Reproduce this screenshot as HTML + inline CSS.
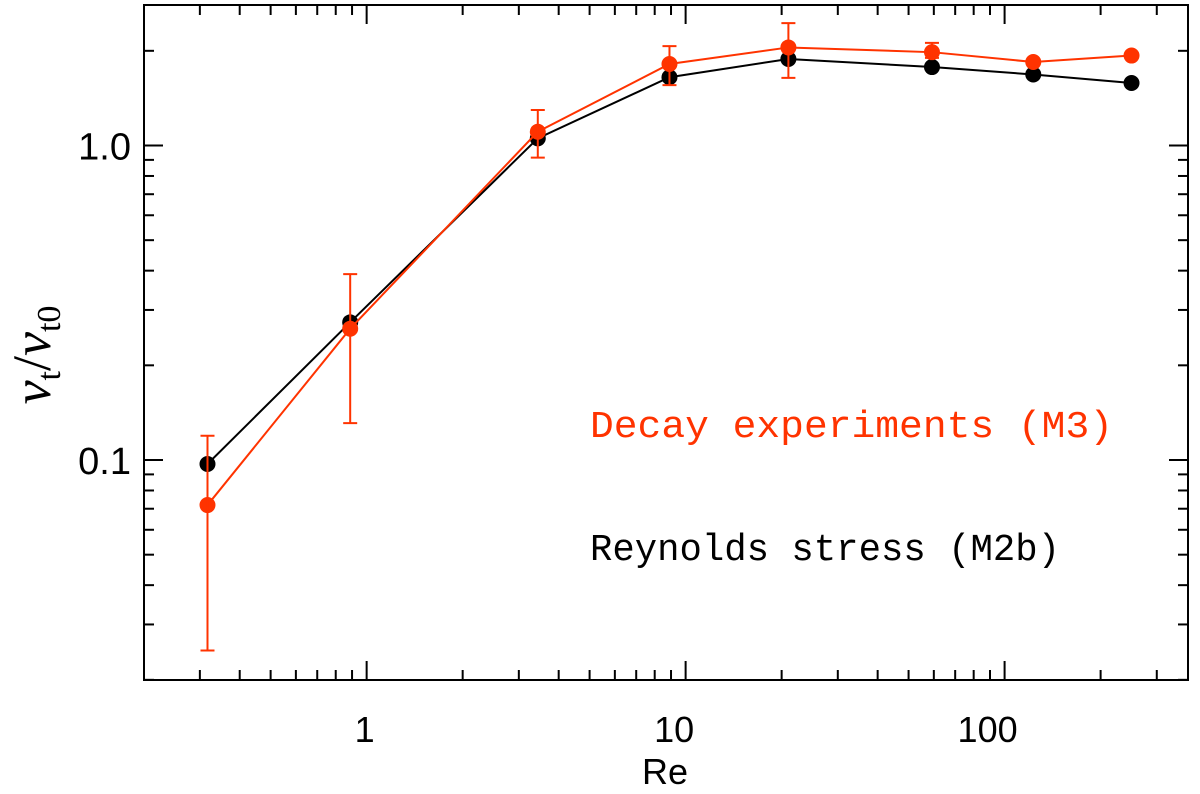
<!DOCTYPE html>
<html><head><meta charset="utf-8"><style>html,body{margin:0;padding:0;background:#fff}svg{display:block}</style></head>
<body>
<svg id="chart" width="1200" height="794" xmlns="http://www.w3.org/2000/svg" font-family="Liberation Sans, sans-serif"></svg>
<script>
const reValues=[0.317,0.888,3.44,8.9,21.0,59.2,123,250];
const reynoldsStress=[0.0971,0.274,1.054,1.648,1.884,1.776,1.682,1.58];
const decayExp=[0.0719,0.2615,1.106,1.816,2.05,1.98,1.843,1.932];
const decayErrHi=[0.1194,0.390,1.297,2.07,2.45,2.12,null,null];
const decayErrLo=[0.0248,0.131,0.915,1.556,1.64,1.90,null,null];
const xTickLabels=["1","10","100"];
const yTickLabels=["0.1","1.0"];
const L=144,R=1188,T=5,B=680;
const xl0=-0.698,xl1=2.575,yl0=-1.6995,yl1=0.4467;
const X=v=>L+(Math.log10(v)-xl0)/(xl1-xl0)*(R-L);
const Y=v=>B-(Math.log10(v)-yl0)/(yl1-yl0)*(B-T);
const svg=document.getElementById('chart');
const NS='http://www.w3.org/2000/svg';
function mk(tag,at,parent){const e=document.createElementNS(NS,tag);for(const k in at)e.setAttribute(k,at[k]);(parent||svg).appendChild(e);return e;}
const frame=mk('rect',{x:L,y:T,width:R-L,height:B-T,fill:'none',stroke:'#000','stroke-width':2});


const gx=mk('g',{});


for(let d=-1;d<=2;d++){for(let m=1;m<=9;m++){const v=m*Math.pow(10,d);const lv=Math.log10(v);if(lv<xl0||lv>xl1)continue;const x=X(v);const len=m===1?19:10;
mk('line',{x1:x,y1:B,x2:x,y2:B-len,stroke:'#000','stroke-width':2},gx);mk('line',{x1:x,y1:T,x2:x,y2:T+len,stroke:'#000','stroke-width':2},gx);}}
xTickLabels.forEach((s)=>{const v=parseFloat(s);const t=mk('text',{x:X(v)-(v>=10?11*Math.log10(v)/2+6:2),y:742,'font-size':36,'text-anchor':'middle'},gx);t.textContent=s;

});
const gy=mk('g',{});


for(let d=-2;d<=0;d++){for(let m=1;m<=9;m++){const v=m*Math.pow(10,d);const lv=Math.log10(v);if(lv<yl0-0.001||lv>yl1)continue;const y=Y(v);const len=m===1?19:10;
mk('line',{x1:L,y1:y,x2:L+len,y2:y,stroke:'#000','stroke-width':2},gy);mk('line',{x1:R,y1:y,x2:R-len,y2:y,stroke:'#000','stroke-width':2},gy);}}
yTickLabels.forEach(s=>{const t=mk('text',{x:131,y:Y(parseFloat(s))+14,'font-size':38,'text-anchor':'end'},gy);t.textContent=s;

});
const xt=mk('text',{x:665,y:784,'font-size':36,'text-anchor':'middle'});xt.textContent='Re';


const yt=mk('text',{transform:'translate(50,355) rotate(-90)','font-size':54,'text-anchor':'middle','font-family':'Liberation Serif, serif'});
yt.innerHTML='<tspan font-style="italic">ν</tspan><tspan font-size="34" dy="10">t</tspan><tspan dy="-10">/</tspan><tspan font-style="italic">ν</tspan><tspan font-size="34" dy="10">t0</tspan>';


function series(vals,color,name){const g=mk('g',{});


mk('polyline',{points:vals.map((v,i)=>X(reValues[i])+','+Y(v)).join(' '),fill:'none',stroke:color,'stroke-width':2},g);
vals.forEach((v,i)=>{const c=mk('circle',{cx:X(reValues[i]),cy:Y(v),r:8,fill:color},g);

});return g;}
series(reynoldsStress,'#000','reynolds-stress-series');
const gr=series(decayExp,'#ff3300','decay-series');
decayErrHi.forEach((hi,i)=>{if(hi==null)return;const x=X(reValues[i]),y1=Y(hi),y2=Y(decayErrLo[i]);
const e=mk('path',{d:`M${x},${y1}V${y2}M${x-7},${y1}H${x+7}M${x-7},${y2}H${x+7}`,stroke:'#ff3300','stroke-width':2,fill:'none'},gr);

});
const l1=mk('text',{x:590,y:437,'font-size':38,fill:'#ff3300','font-family':'Liberation Mono, monospace',textLength:523,lengthAdjust:'spacingAndGlyphs'});l1.textContent='Decay experiments (M3)';


const l2=mk('text',{x:590,y:560,'font-size':38,fill:'#000','font-family':'Liberation Mono, monospace',textLength:470,lengthAdjust:'spacingAndGlyphs'});l2.textContent='Reynolds stress (M2b)';


</script>
</body></html>
